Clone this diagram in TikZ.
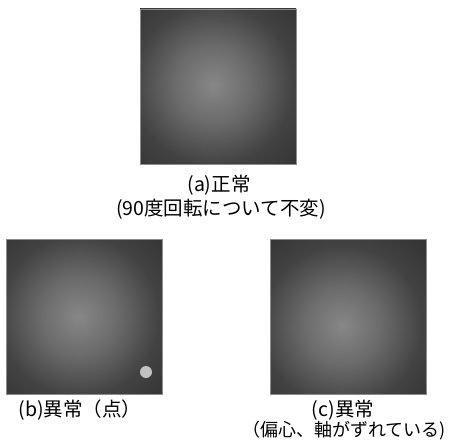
\documentclass[tikz,border=0pt]{standalone}
\usepackage{fontspec}
\newfontfamily\jp{Noto Sans CJK JP}
\definecolor{cA}{gray}{0.53}
\definecolor{cB}{gray}{0.42}
\definecolor{cC}{gray}{0.26}
\definecolor{cD}{gray}{0.19}
\definecolor{edgegray}{gray}{0.55}
\definecolor{dotgray}{gray}{0.76}
\pgfdeclareradialshading{waferfill}{\pgfpoint{0bp}{0bp}}{color(0bp)=(cA); color(38bp)=(cB); color(80bp)=(cC); color(125bp)=(cD)}
\begin{document}
\begin{tikzpicture}[x=1pt,y=1pt,
  wafer/.style={draw=edgegray, line width=0.8pt, minimum width=156pt, minimum height=155pt, inner sep=0pt, outer sep=0pt,
    path picture={\node[inner sep=0pt, outer sep=0pt] at ([shift={(#1)}]path picture bounding box.center) {\pgfuseshading{waferfill}};}},
  lbl/.style={font=\jp\fontsize{19.5}{23}\selectfont, inner sep=0pt, text=black}]
\useasboundingbox (0,0) rectangle (452,-444);
\node[wafer={-5,2}] (a) at (218,-86.5) {};
\node[wafer={-5,0}] (b) at (84,-316.5) {};
\node[wafer={-6,-9}] (c) at (348,-316.5) {};
\fill[dotgray] (146,-372) circle (6) node (dot) {};
\node[lbl] (la1) at (219,-185) {(a)正常};
\node[lbl] (la2) at (221,-209) {(90度回転について不変)};
\node[lbl] (lb1) at (80,-410) {(b)異常（点）};
\node[lbl] (lc1) at (343,-410) {(c)異常};
\node[lbl, font=\jp\fontsize{18}{22}\selectfont] (lc2) at (344,-431) {（偏心、軸がずれている)};
\end{tikzpicture}
\end{document}
